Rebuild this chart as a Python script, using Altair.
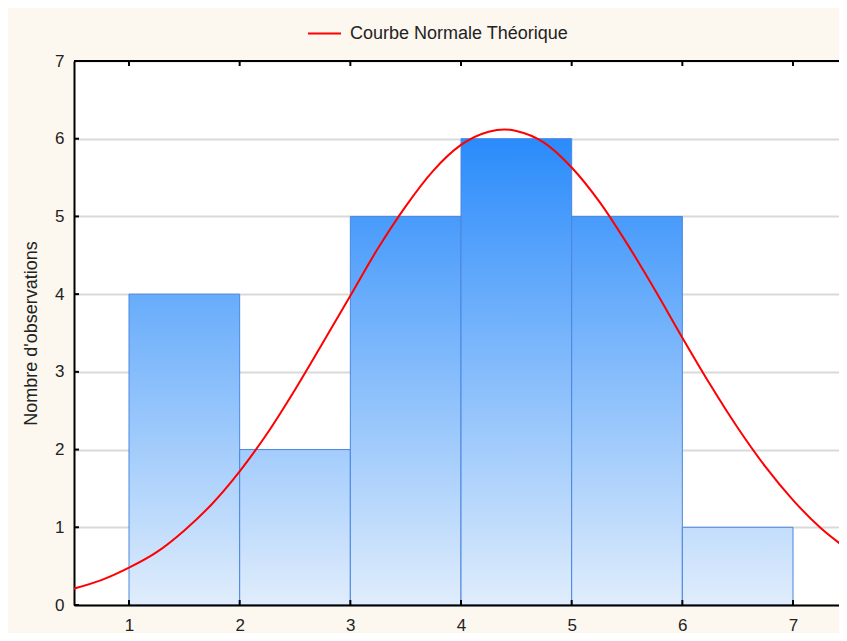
import altair as alt
import pandas as pd

# ---- data ----
bin_start = [1, 2, 3, 4, 5, 6]
bin_end = [2, 3, 4, 5, 6, 7]
counts = [4, 2, 5, 6, 5, 1]

curve_x = [0.5, 0.75, 1.0, 1.25, 1.5, 1.75, 2.0, 2.25, 2.5, 2.75, 3.0, 3.25, 3.5,
           3.75, 4.0, 4.25, 4.39, 4.5, 4.75, 5.0, 5.25, 5.5, 5.75, 6.0, 6.25, 6.5,
           6.75, 7.0, 7.25, 7.5]
curve_y = [0.21, 0.32, 0.48, 0.68, 0.96, 1.30, 1.72, 2.21, 2.77, 3.37, 3.98, 4.59, 5.13,
           5.59, 5.92, 6.09, 6.12, 6.10, 5.95, 5.63, 5.19, 4.65, 4.06, 3.44, 2.84, 2.28,
           1.78, 1.35, 0.99, 0.71]

x_ticks = [1, 2, 3, 4, 5, 6, 7]
y_ticks = [0, 1, 2, 3, 4, 5, 6, 7]
legend_label = "Courbe Normale Théorique"
y_title = "Nombre d'observations"

# ---- styling ----
W, H = 765, 544
PX_PER_UNIT = 110.67
FONT = "Liberation Sans"
TXT = "#222222"
BOTTOM_RGB = (224, 237, 252)
TOP_RGB = (42, 139, 251)


def grad_color(v):
    t = v / 6.0
    r, g, b = [round(a + (c - a) * t) for a, c in zip(BOTTOM_RGB, TOP_RGB)]
    return "#{:02x}{:02x}{:02x}".format(r, g, b)


bars_df = pd.DataFrame({"start": bin_start, "end": bin_end, "count": counts})
curve_df = pd.DataFrame({"x": curve_x, "y": curve_y, "serie": [legend_label] * len(curve_x)})
xt_df = pd.DataFrame({"v": x_ticks})
yt_df = pd.DataFrame({"v": y_ticks})

xscale = alt.Scale(domain=[0.503, 0.503 + W / PX_PER_UNIT], nice=False, zero=False)
yscale = alt.Scale(domain=[0, 7], nice=False)

x_axis = alt.Axis(values=x_ticks, title=None, tickSize=0, grid=False, domain=True,
                  domainColor="black", domainWidth=2, labelFont=FONT, labelFontSize=17,
                  labelColor=TXT, labelPadding=12, zindex=1, format="d")
y_axis = alt.Axis(values=y_ticks, title=y_title, tickSize=0, grid=True, gridColor="#d9d9d9",
                  gridWidth=2, domain=True, domainColor="black", domainWidth=2,
                  labelFont=FONT, labelFontSize=17, labelColor=TXT, labelPadding=10,
                  titleFont=FONT, titleFontSize=18, titleFontWeight="normal", titleColor=TXT,
                  titleX=-38, titleY=H / 2, titleBaseline="alphabetic", titleAlign="center",
                  format="d")


def X(field):
    return alt.X(field, scale=xscale, axis=x_axis)


def Y(field):
    return alt.Y(field, scale=yscale, axis=y_axis)


layers = []
for i, h in enumerate(counts):
    fill = {
        "gradient": "linear", "x1": 0, "y1": 0, "x2": 0, "y2": 1,
        "stops": [{"offset": 0, "color": grad_color(h)},
                  {"offset": 1, "color": grad_color(0)}],
    }
    layer = alt.Chart(bars_df).transform_filter(
        alt.datum.start == bin_start[i]
    ).mark_rect(fill=fill, stroke="#4a86e0", strokeWidth=1).encode(
        x=X("start:Q"),
        x2="end:Q",
        y=Y("count:Q"),
        y2=alt.datum(0),
    )
    layers.append(layer)

curve = alt.Chart(curve_df).mark_line(strokeWidth=2, clip=True, interpolate="monotone").encode(
    x=X("x:Q"),
    y=Y("y:Q"),
    color=alt.Color("serie:N", scale=alt.Scale(range=["#ff0000"]),
                    legend=alt.Legend(orient="none", legendX=233, legendY=-45, title=None,
                                      symbolType="stroke", symbolSize=1089,
                                      symbolStrokeWidth=2, labelFontSize=18,
                                      labelFont=FONT, labelColor=TXT, labelOffset=8,
                                      labelLimit=400, padding=0)),
)

top_line = alt.Chart(xt_df).mark_rule(color="black", strokeWidth=2).encode(
    x=alt.value(0), x2=alt.value(W), y=alt.value(0)
)
bottom_ticks = alt.Chart(xt_df).mark_rule(color="black", strokeWidth=2).encode(
    x=X("v:Q"), y=alt.value(H), y2=alt.value(H - 5)
)
top_ticks = alt.Chart(xt_df).mark_rule(color="black", strokeWidth=2).encode(
    x=X("v:Q"), y=alt.value(0), y2=alt.value(5)
)
left_ticks = alt.Chart(yt_df).mark_rule(color="black", strokeWidth=2).encode(
    y=Y("v:Q"), x=alt.value(0), x2=alt.value(5)
)

chart = alt.layer(*layers, curve, top_line, bottom_ticks, top_ticks, left_ticks).properties(
    width=W, height=H,
    autosize=alt.AutoSizeParams(type="none"),
    padding={"left": 66, "top": 53, "right": 0, "bottom": 28},
    background="#fdf8ef",
).configure_view(fill="white", stroke=None)

chart.save("out.html", embed_options={"renderer": "svg", "actions": False})
